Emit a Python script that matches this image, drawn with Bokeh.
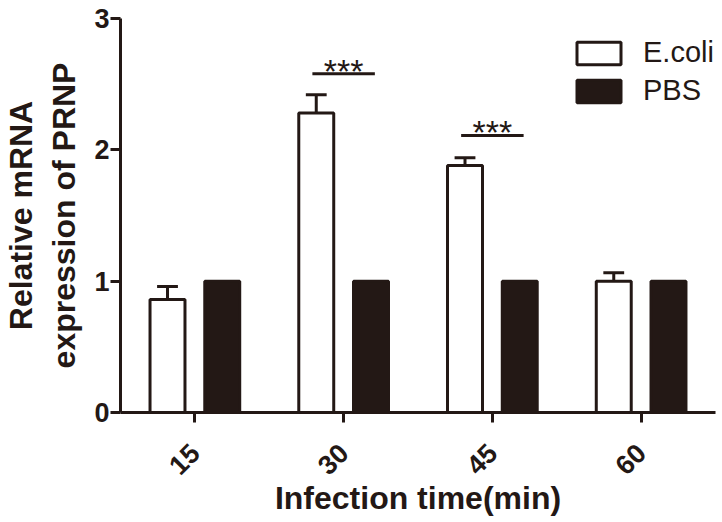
import math
from bokeh.plotting import figure
from bokeh.models import FixedTicker, Range1d, Legend, LegendItem
from bokeh.core.properties import value
from bokeh.embed import file_html
from bokeh.resources import INLINE

# ---- data ----
times = ["15", "30", "45", "60"]
ecoli = [0.86, 2.28, 1.88, 1.00]
ecoli_err = [0.10, 0.14, 0.06, 0.065]
pbs = [1.0, 1.0, 1.0, 1.0]
sig_groups = [2, 3]          # 30 min and 45 min
sig_heights = [2.58, 2.11]
sig_text = ["***", "***"]
y_ticks = [0, 1, 2, 3]

INK = "#231815"
FONT = "Liberation Sans"

groups = list(range(1, len(times) + 1))
off = 0.184
bw = 0.235

p = figure(width=722, height=522, output_backend="svg", toolbar_location=None,
           x_range=Range1d(0.5, 4.5), y_range=Range1d(0, 3))
p.min_border_left = 117
p.min_border_right = 7
p.min_border_top = 18
p.min_border_bottom = 110
p.outline_line_color = None
p.xgrid.visible = False
p.ygrid.visible = False
p.background_fill_color = "white"

x_e = [g - off for g in groups]
x_p = [g + off for g in groups]

# error bars (upper only)
tops = [v + e for v, e in zip(ecoli, ecoli_err)]
p.segment(x0=x_e, y0=ecoli, x1=x_e, y1=tops, line_color=INK, line_width=3)
p.segment(x0=[x - 0.07 for x in x_e], y0=tops, x1=[x + 0.07 for x in x_e], y1=tops,
          line_color=INK, line_width=3)

r_e = p.vbar(x=x_e, top=ecoli, width=bw, fill_color="white", line_color=INK, line_width=3)
r_p = p.vbar(x=x_p, top=pbs, width=bw, fill_color=INK, line_color=INK, line_width=3)

# significance
p.segment(x0=[g - 0.21 for g in sig_groups], y0=sig_heights,
          x1=[g + 0.21 for g in sig_groups], y1=sig_heights,
          line_color=INK, line_width=3)
p.text(x=sig_groups, y=sig_heights, text=sig_text, text_align="center",
       text_baseline="alphabetic", y_offset=-3,
       text_font=value(FONT), text_font_size="34px", text_color=INK)

# axes
for ax in (p.xaxis[0], p.yaxis[0]):
    ax.axis_line_width = 3
    ax.axis_line_color = INK
    ax.major_tick_line_width = 3
    ax.major_tick_line_color = INK
    ax.major_tick_out = 10
    ax.major_tick_in = 0
    ax.minor_tick_line_color = None
    ax.major_label_text_font = FONT
    ax.major_label_text_font_style = "bold"
    ax.major_label_text_font_size = "27px"
    ax.major_label_text_color = INK
    ax.axis_label_text_font = FONT
    ax.axis_label_text_font_style = "bold"
    ax.axis_label_text_font_size = "32px"
    ax.axis_label_text_color = INK

p.yaxis.ticker = FixedTicker(ticks=y_ticks)
p.yaxis.major_label_standoff = 1
p.yaxis.axis_label = "Relative mRNA\nexpression of PRNP"
p.yaxis.axis_label_standoff = 9

p.xaxis.ticker = FixedTicker(ticks=groups)
p.xaxis.major_label_overrides = {g: t for g, t in zip(groups, times)}
p.xaxis.major_label_orientation = math.pi / 4
p.xaxis.major_label_standoff = 26
p.xaxis.axis_label = "Infection time(min)"
p.xaxis.axis_label_standoff = -6
p.xaxis.axis_label_text_line_height = 1.0

legend = Legend(items=[LegendItem(label="E.coli", renderers=[r_e]),
                       LegendItem(label="PBS", renderers=[r_p])],
                location=(451, 305), padding=0, margin=0, spacing=5,
                glyph_width=55, glyph_height=28, label_standoff=17,
                border_line_color=None, background_fill_alpha=0,
                label_text_font=FONT, label_text_font_size="29px",
                label_text_color=INK)
p.add_layout(legend)

open("out.html", "w").write(file_html(p, INLINE))
